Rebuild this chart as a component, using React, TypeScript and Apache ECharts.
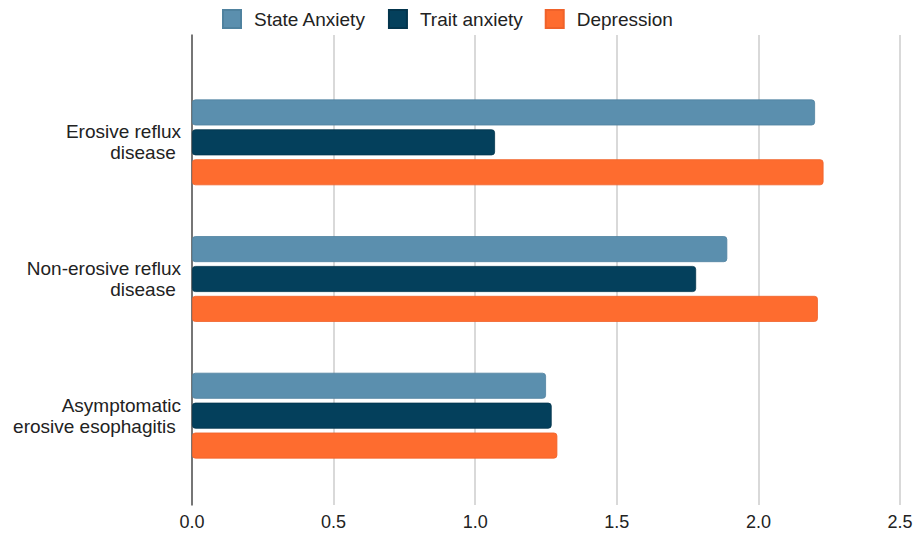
import React, { useEffect, useRef } from "react";
import * as echarts from "echarts";

const categories = [
  "Erosive reflux\ndisease ",
  "Non-erosive reflux\ndisease ",
  "Asymptomatic\nerosive esophagitis ",
];
const seriesNames = ["State Anxiety", "Trait anxiety", "Depression"];
const stateAnxiety = [2.2, 1.89, 1.25];
const traitAnxiety = [1.07, 1.78, 1.27];
const depression = [2.23, 2.21, 1.29];
const colors = ["#5b8fae", "#04405c", "#fe6c2f"];
const borderColors = ["#4f829f", "#03354d", "#f0622a"];

export default function App() {
  const ref = useRef<HTMLDivElement>(null);
  useEffect(() => {
    if (!ref.current) return;
    const chart = echarts.init(ref.current, undefined, { renderer: "svg" });
    const values = [stateAnxiety, traitAnxiety, depression];
    const font = "'Liberation Sans', Arial, sans-serif";
    chart.setOption({
      animation: false,
      textStyle: { fontFamily: font },
      legend: {
        left: 217,
        top: 4,
        itemWidth: 18,
        itemHeight: 18,
        itemGap: 22,
        icon: "rect",
        textStyle: { fontSize: 19, color: "#222", padding: [0, 0, 0, 8], fontFamily: font },
        data: seriesNames,
      },
      grid: [
        { left: 192, right: 21, top: 35, bottom: 33 },
        { left: 192, right: 21, top: 74, bottom: 54 },
      ],
      xAxis: [
        {
          gridIndex: 0,
          type: "value",
          min: 0,
          max: 2.5,
          interval: 0.5,
          axisLine: { show: false },
          axisTick: { show: false },
          splitLine: { show: true, lineStyle: { color: "#cccccc", width: 1.5 } },
          axisLabel: {
            fontSize: 18,
            color: "#222",
            margin: 8,
            fontFamily: font,
            formatter: (v: number) => v.toFixed(1),
          },
        },
        {
          gridIndex: 1,
          type: "value",
          min: 0,
          max: 2.5,
          show: false,
          splitLine: { show: false },
        },
      ],
      yAxis: [
        {
          gridIndex: 0,
          type: "value",
          min: 0,
          max: 1,
          axisLabel: { show: false },
          axisTick: { show: false },
          splitLine: { show: false },
          axisLine: { show: true, lineStyle: { color: "#555", width: 1.5 } },
        },
        {
          gridIndex: 1,
          type: "category",
          inverse: true,
          data: categories,
          axisLine: { show: false },
          axisTick: { show: false },
          axisLabel: {
            fontSize: 19,
            color: "#222",
            margin: 11,
            lineHeight: 21,
            align: "right",
            fontFamily: font,
          },
        },
      ],
      series: seriesNames.map((name, i) => ({
        name,
        type: "bar",
        xAxisIndex: 1,
        yAxisIndex: 1,
        data: values[i],
        barWidth: 26,
        barGap: "15%",
        itemStyle: {
          color: colors[i],
          borderColor: borderColors[i],
          borderWidth: 0.8,
          borderRadius: 3,
        },
      })),
    });
    return () => chart.dispose();
  }, []);
  return <div ref={ref} style={{ width: 921, height: 538, position: "absolute", left: 0, top: 0 }} />;
}
